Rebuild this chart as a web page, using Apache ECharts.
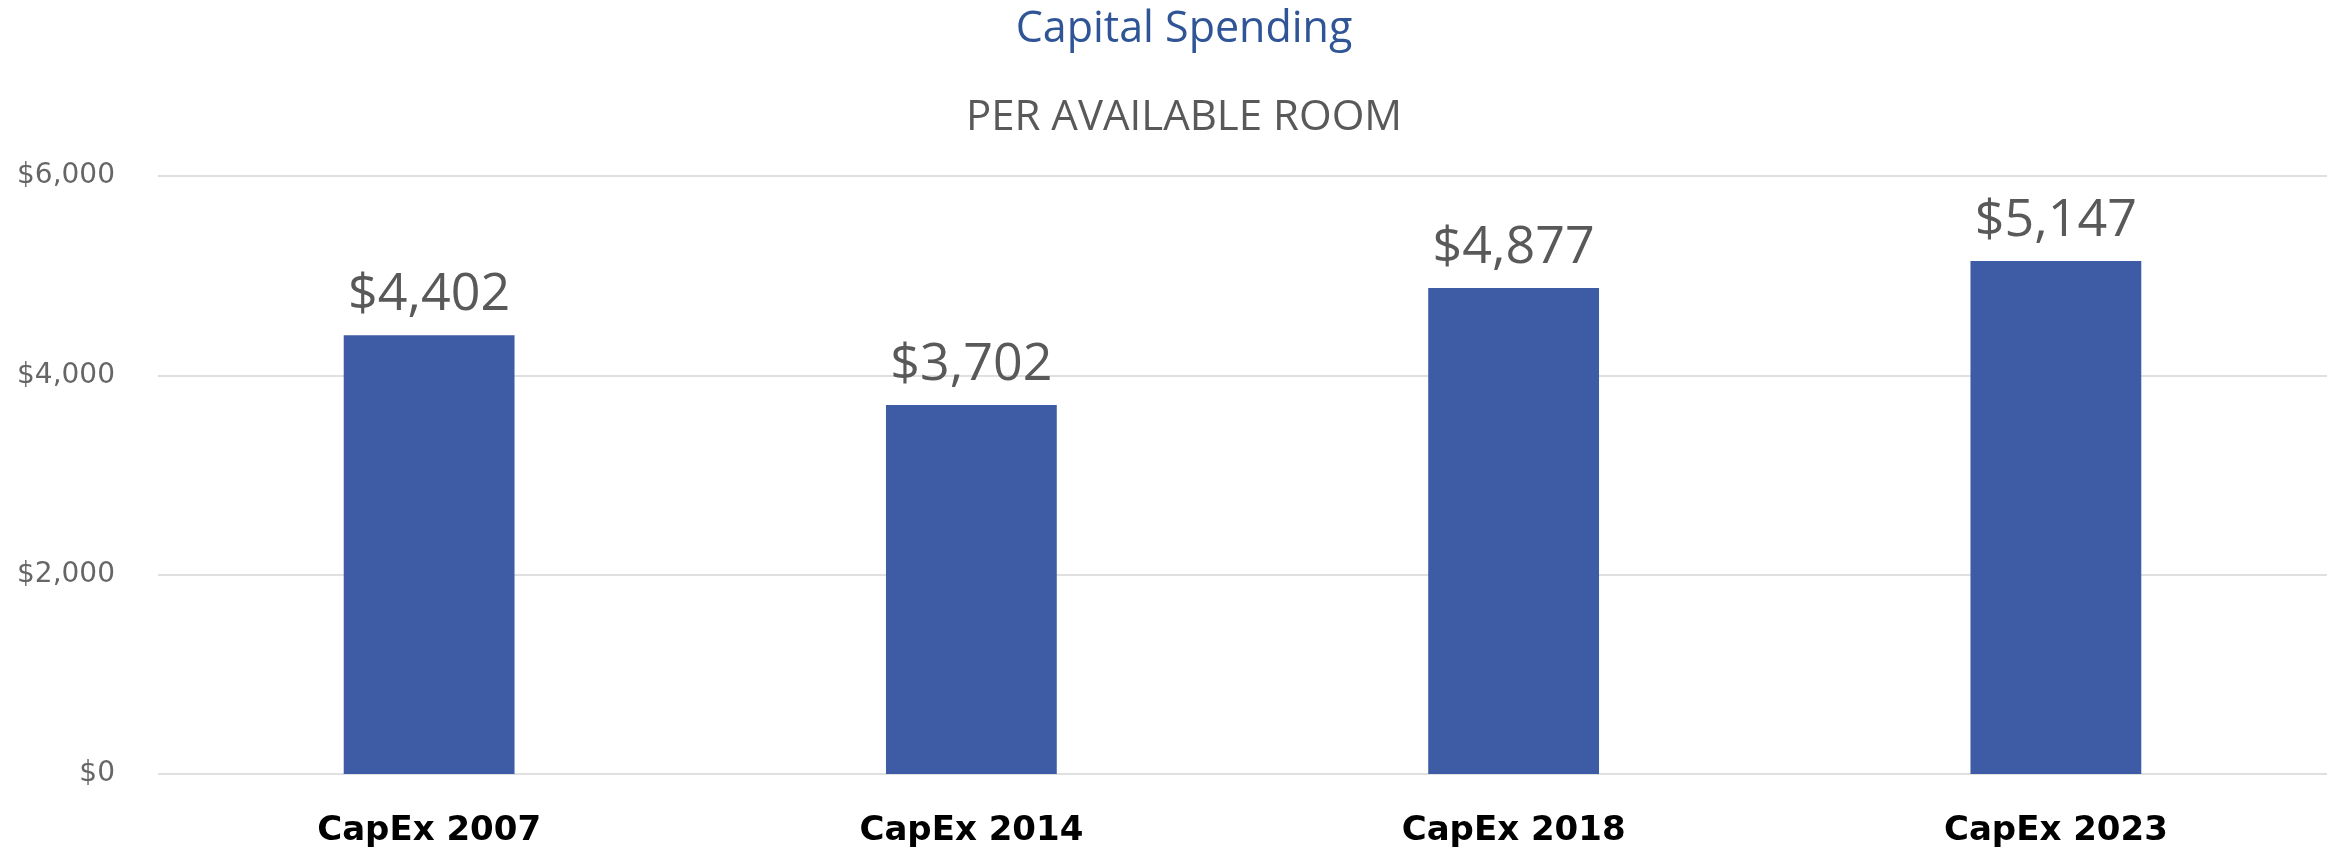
<!DOCTYPE html>
<html>
<head>
<meta charset="utf-8">
<title>Capital Spending</title>
<script src="https://cdn.jsdelivr.net/npm/echarts@6/dist/echarts.min.js"></script>
<style>
  html, body { margin: 0; padding: 0; background: #fff; }
  #main { width: 2338px; height: 859px; }
</style>
</head>
<body>
<div id="main"></div>
<script>
// 数据
const categories = ['CapEx 2007', 'CapEx 2014', 'CapEx 2018', 'CapEx 2023']
const spending = [4402, 3702, 4877, 5147]
const yTicks = [0, 2000, 4000, 6000]

function money (v) {
  return '$' + v.toLocaleString('en-US')
}

const myChart = echarts.init(document.getElementById('main'))

// 标题中心略偏右（约 1184px）
const titleX = 1184

const option = {
  backgroundColor: '#ffffff',
  animation: false,
  graphic: [
    {
      type: 'text',
      x: titleX,
      y: 8,
      style: {
        text: 'Capital Spending',
        align: 'center',
        verticalAlign: 'top',
        font: 'normal 43px "Open Sans"',
        fill: '#2f5597'
      }
    },
    {
      type: 'text',
      x: titleX,
      y: 97,
      style: {
        text: 'PER AVAILABLE ROOM',
        align: 'center',
        verticalAlign: 'top',
        font: 'normal 42px "Open Sans"',
        fill: '#595959'
      }
    }
  ],
  grid: {
    left: 158,
    right: 11,
    top: 176,
    bottom: 85
  },
  xAxis: {
    type: 'category',
    data: categories,
    axisLine: { show: false },
    axisTick: { show: false },
    axisLabel: {
      margin: 40,
      fontFamily: 'DejaVu Sans',
      fontSize: 34,
      fontWeight: 'bold',
      color: '#000000'
    }
  },
  yAxis: {
    type: 'value',
    min: yTicks[0],
    max: yTicks[yTicks.length - 1],
    interval: 2000,
    axisLine: { show: false },
    axisTick: { show: false },
    axisLabel: {
      margin: 43,
      fontFamily: 'DejaVu Sans',
      fontSize: 28,
      color: '#666666',
      formatter: money
    },
    splitLine: {
      lineStyle: { color: '#e0e0e0', width: 2 }
    }
  },
  series: [
    {
      type: 'bar',
      data: spending,
      barWidth: '31.5%',
      itemStyle: { color: '#3d5ca5' },
      label: {
        show: true,
        position: 'top',
        distance: 14,
        fontFamily: 'Open Sans',
        fontSize: 52,
        color: '#595959',
        formatter: function (p) { return money(p.value) }
      }
    }
  ]
}

myChart.setOption(option)
</script>
</body>
</html>
